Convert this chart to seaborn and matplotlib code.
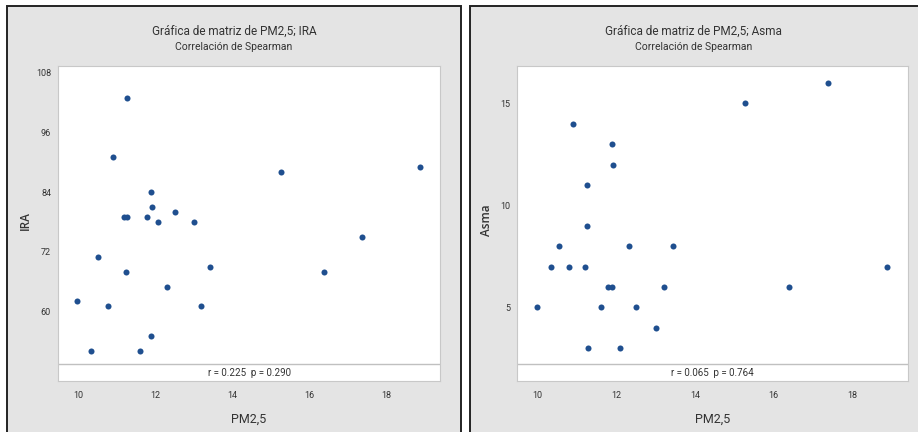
import matplotlib
matplotlib.use("Agg")
import matplotlib.pyplot as plt
import matplotlib.patches as mpatches
import pandas as pd
import seaborn as sns

# ── Data ─────────────────────────────────────────────────────────────────────
PM25 = [9.98, 10.34, 10.53, 10.79, 10.90, 11.19, 11.24, 11.26, 11.28, 11.62,
        11.79, 11.89, 11.90, 11.92, 12.08, 12.31, 12.51, 13.01, 13.20, 13.44,
        15.27, 16.38, 17.38, 18.88]
IRA  = [62, 52, 71, 61, 91, 79, 68, 79, 103, 52,
        79, 55, 84, 81, 78, 65, 80, 78, 61, 69,
        88, 68, 75, 89]
ASMA = [5, 7, 8, 7, 14, 7, 9, 11, 3, 5,
        6, 13, 6, 12, 3, 8, 5, 4, 6, 8,
        15, 6, 16, 7]

X_TICKS    = [10, 12, 14, 16, 18]
IRA_TICKS  = [60, 72, 84, 96, 108]
ASMA_TICKS = [5, 10, 15]
TITLES     = ["Gráfica de matriz de PM2,5; IRA", "Gráfica de matriz de PM2,5; Asma"]
SUBTITLE   = "Correlación de Spearman"
STATS      = ["r = 0.225  p = 0.290", "r = 0.065  p = 0.764"]

df = pd.DataFrame({"PM2,5": PM25, "IRA": IRA, "Asma": ASMA})

sns.set_style("white")
plt.rcParams["font.family"] = ["Roboto", "DejaVu Sans"]

BLUE  = "#1f4f8f"
PANEL = "#e4e4e4"
TEXT  = "#333333"
W, H  = 918, 432

fig = plt.figure(figsize=(W / 100, H / 100), dpi=100)
fig.patch.set_facecolor("white")

# pixel layout of the two panels and their plot areas
panels     = [(7, 461), (470, 924)]   # right panel runs off the image edge
plot_boxes = [(58, 440), (517, 908)]
ylabel_px  = [32, 493]
top_px, bot_px = 66, 381
specs = [("IRA", IRA_TICKS, (46.0, 109.35), (9.48, 19.40)),
         ("Asma", ASMA_TICKS, (1.39, 16.83), (9.47, 19.42))]

for i, (p0, p1) in enumerate(panels):
    fig.patches.append(mpatches.Rectangle(
        (p0 / W, -0.02), (p1 - p0) / W, 1.02 - 6 / H,
        transform=fig.transFigure, facecolor=PANEL, edgecolor="#222222",
        linewidth=1.4, zorder=-5))
    cx = (p0 + min(p1, W - 1)) / 2 / W
    fig.text(cx, 1 - 31 / H, TITLES[i], ha="center", va="center",
             fontsize=8.5, color=TEXT)
    fig.text(cx, 1 - 47 / H, SUBTITLE, ha="center", va="center",
             fontsize=7.5, color=TEXT)

    x0, x1 = plot_boxes[i]
    ax = fig.add_axes([x0 / W, 1 - bot_px / H, (x1 - x0) / W, (bot_px - top_px) / H])
    ax.set_zorder(2)
    ax.set_facecolor("white")
    col, yticks, ylim, xlim = specs[i]

    sns.scatterplot(data=df, x="PM2,5", y=col, ax=ax, color=BLUE,
                    s=19, linewidth=0, zorder=3)

    ax.set_xlim(*xlim)
    ax.set_ylim(*ylim)
    ax.set_xticks(X_TICKS)
    ax.set_yticks(yticks)
    ax.tick_params(axis="both", direction="out", length=3, width=0.8,
                   color="#9a9a9a", labelsize=6.5, labelcolor=TEXT, pad=2)
    ax.tick_params(axis="x", pad=4)
    for sp in ax.spines.values():
        sp.set_color("#c8c8c8")
        sp.set_linewidth(0.8)

    # statistics strip at the bottom of the plot area
    strip = (bot_px - 364) / (bot_px - top_px)
    ax.plot([0, 1], [strip, strip], transform=ax.transAxes,
            color="#c0c0c0", linewidth=1.0, zorder=2)
    ax.text(0.5, strip / 2, STATS[i], transform=ax.transAxes,
            ha="center", va="center", fontsize=7, color=TEXT)

    ax.set_xlabel("PM2,5", fontsize=9, color=TEXT)
    ax.xaxis.set_label_coords(0.5, -(413 - bot_px) / (bot_px - top_px))
    ax.set_ylabel(col, fontsize=8.5, color=TEXT, fontweight="semibold",
                  family=["Open Sans", "DejaVu Sans"])
    ax.yaxis.set_label_coords(-(x0 - ylabel_px[i]) / (x1 - x0), 0.51)

fig.savefig("out.png", dpi=100)
